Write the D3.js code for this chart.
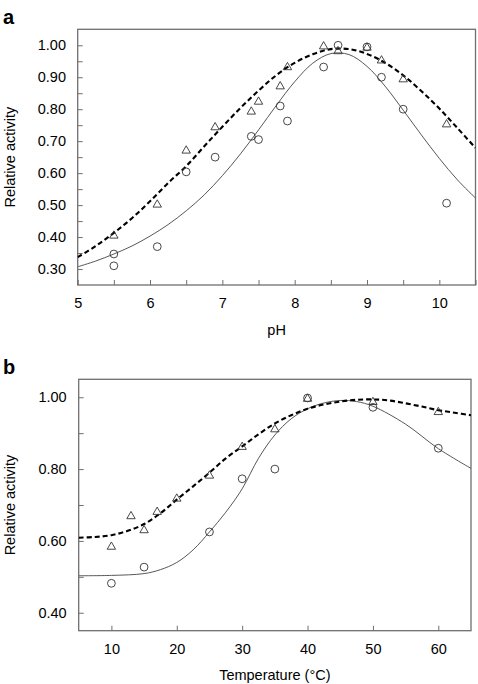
<!DOCTYPE html>
<html>
<head>
<meta charset="utf-8">
<script src="https://cdn.jsdelivr.net/npm/d3@7"></script>
<style>
  html, body { margin: 0; padding: 0; background: #fff; }
  svg { display: block; font-family: "Liberation Sans", Arial, sans-serif; }
</style>
</head>
<body>
<svg id="chart" width="478" height="684"></svg>
<script>
// ---------- Panel a: pH ----------
const phCircleX = [5.5, 5.5, 6.1, 6.5, 6.9, 7.4, 7.5, 7.8, 7.9, 8.4, 8.6, 9.0, 9.2, 9.5, 10.1];
const phCircleY = [0.347, 0.31, 0.37, 0.604, 0.65, 0.715, 0.705, 0.81, 0.763, 0.932, 1.0, 0.995, 0.90, 0.80, 0.506];
const phTriX = [5.5, 6.1, 6.5, 6.9, 7.4, 7.5, 7.8, 7.9, 8.4, 8.6, 9.0, 9.2, 9.5, 10.1];
const phTriY = [0.407, 0.504, 0.673, 0.746, 0.795, 0.826, 0.874, 0.934, 0.999, 0.984, 0.995, 0.955, 0.896, 0.755];
const phCurveX = [5, 5.25, 5.5, 5.75, 6, 6.25, 6.5, 6.75, 7, 7.25, 7.5, 7.75, 8, 8.25, 8.5, 8.75, 9, 9.25, 9.5, 9.75, 10, 10.25, 10.5];
const phSolidY = [0.307, 0.325, 0.347, 0.372, 0.403, 0.439, 0.482, 0.532, 0.592, 0.660, 0.735, 0.813, 0.886, 0.944, 0.974, 0.971, 0.934, 0.872, 0.797, 0.720, 0.646, 0.579, 0.522];
const phDashY = [0.337, 0.372, 0.413, 0.459, 0.512, 0.569, 0.622, 0.684, 0.745, 0.804, 0.858, 0.907, 0.945, 0.972, 0.988, 0.988, 0.973, 0.945, 0.906, 0.857, 0.802, 0.741, 0.679];
const phTicks = [5, 5.5, 6, 6.5, 7, 7.5, 8, 8.5, 9, 9.5, 10, 10.5];
const phTickLabels = ["5", "6", "7", "8", "9", "10"];
const actTicksA = [0.30, 0.35, 0.40, 0.45, 0.50, 0.55, 0.60, 0.65, 0.70, 0.75, 0.80, 0.85, 0.90, 0.95, 1.00];
const actLabelsA = ["0.30", "0.40", "0.50", "0.60", "0.70", "0.80", "0.90", "1.00"];

// ---------- Panel b: Temperature ----------
const tCircleX = [10, 15, 25, 30, 35, 40, 50, 60];
const tCircleY = [0.482, 0.527, 0.625, 0.773, 0.80, 0.998, 0.972, 0.858];
const tTriX = [10, 13, 15, 17, 20, 25, 30, 35, 40, 50, 60];
const tTriY = [0.586, 0.671, 0.632, 0.683, 0.72, 0.784, 0.864, 0.913, 0.998, 0.989, 0.961];
const tSolidX = [5, 10, 15, 17.5, 20, 22.5, 25, 27.5, 30, 32.5, 35, 37.5, 40, 42.5, 45, 47.5, 50, 55, 60, 65];
const tSolidY = [0.503, 0.504, 0.509, 0.52, 0.540, 0.575, 0.625, 0.68, 0.745, 0.83, 0.895, 0.94, 0.968, 0.984, 0.991, 0.988, 0.975, 0.925, 0.857, 0.802];
const tDashX = [5, 7.5, 10, 12.5, 15, 17.5, 20, 22.5, 25, 27.5, 30, 32.5, 35, 37.5, 40, 42.5, 45, 47.5, 50, 52.5, 55, 57.5, 60, 62.5, 65];
const tDashY = [0.609, 0.611, 0.616, 0.628, 0.647, 0.677, 0.715, 0.752, 0.79, 0.83, 0.863, 0.897, 0.927, 0.95, 0.968, 0.98, 0.988, 0.993, 0.994, 0.991, 0.983, 0.974, 0.964, 0.957, 0.95];
const tTicks = [10, 20, 30, 40, 50, 60];
const tTickLabels = ["10", "20", "30", "40", "50", "60"];
const actTicksB = [0.40, 0.50, 0.60, 0.70, 0.80, 0.90, 1.00];
const actLabelsB = ["0.40", "0.60", "0.80", "1.00"];

const svg = d3.select("#chart");
const FONT = 14.5;
const frameColor = "#6f6f6f";

function zip(xs, ys) { return xs.map((x, i) => [x, ys[i]]); }

function panel(cfg) {
  const g = svg.append("g");
  const x = d3.scaleLinear().domain(cfg.xDomain).range([cfg.left, cfg.right]);
  const y = d3.scaleLinear().domain(cfg.yDomain).range([cfg.bottom, cfg.top]);

  const clipId = "clip" + cfg.name;
  svg.append("clipPath").attr("id", clipId).append("rect")
    .attr("x", cfg.left).attr("y", cfg.top)
    .attr("width", cfg.right - cfg.left).attr("height", cfg.bottom - cfg.top);

  const fmtY = d => { const s = d3.format(".2f")(d); return cfg.yLabels.includes(s) ? s : ""; };
  const fmtX = d => { const s = d3.format("")(d); return cfg.xLabels.includes(s) ? s : ""; };

  const ax = g.append("g").attr("transform", `translate(0,${cfg.bottom})`)
    .call(d3.axisBottom(x).tickValues(cfg.xTicks).tickSize(-5).tickPadding(12.7).tickFormat(fmtX));
  const ay = g.append("g").attr("transform", `translate(${cfg.left},0)`)
    .call(d3.axisLeft(y).tickValues(cfg.yTicks).tickSize(-5).tickPadding(cfg.yPad).tickFormat(fmtY));
  [ax, ay].forEach(a => {
    a.select(".domain").remove();
    a.selectAll(".tick line").attr("stroke", frameColor).attr("stroke-width", 1);
    a.selectAll(".tick text").attr("fill", "#000").attr("font-size", FONT)
      .attr("font-family", '"Liberation Sans", Arial, sans-serif');
  });

  g.append("rect").attr("x", cfg.left).attr("y", cfg.top)
    .attr("width", cfg.right - cfg.left).attr("height", cfg.bottom - cfg.top)
    .attr("fill", "none").attr("stroke", frameColor).attr("stroke-width", 1.3);

  const line = d3.line().x(d => x(d[0])).y(d => y(d[1])).curve(d3.curveCatmullRom.alpha(0.5));
  const curves = g.append("g").attr("clip-path", `url(#${clipId})`);
  curves.append("path").attr("d", line(zip(cfg.solidX, cfg.solidY)))
    .attr("fill", "none").attr("stroke", "#444").attr("stroke-width", 0.9);
  curves.append("path").attr("d", line(zip(cfg.dashX, cfg.dashY)))
    .attr("fill", "none").attr("stroke", "#000").attr("stroke-width", 2.1)
    .attr("stroke-dasharray", "5,3");

  g.append("g").selectAll("path").data(zip(cfg.triX, cfg.triY)).join("path")
    .attr("d", d => {
      const cx = x(d[0]), cy = y(d[1]);
      return `M${cx},${cy - 4}L${cx + 4.2},${cy + 3.3}L${cx - 4.2},${cy + 3.3}Z`;
    })
    .attr("fill", "none").attr("stroke", "#333").attr("stroke-width", 0.9);
  g.append("g").selectAll("circle").data(zip(cfg.circX, cfg.circY)).join("circle")
    .attr("cx", d => x(d[0])).attr("cy", d => y(d[1])).attr("r", 3.9)
    .attr("fill", "none").attr("stroke", "#333").attr("stroke-width", 0.9);

  g.append("text").attr("transform", `translate(15,${(cfg.top + cfg.bottom) / 2}) rotate(-90)`)
    .attr("text-anchor", "middle").attr("font-size", FONT).text("Relative activity");
  g.append("text").attr("x", (cfg.left + cfg.right) / 2).attr("y", cfg.xTitleY)
    .attr("text-anchor", "middle").attr("font-size", FONT).text(cfg.xTitle);
  g.append("text").attr("x", 3).attr("y", cfg.letterY)
    .attr("font-size", 20).attr("font-weight", "bold").text(cfg.name);
}

panel({
  name: "a", xDomain: [5, 10.5], yDomain: [0.25, 1.05],
  left: 77.7, right: 475.5, top: 29.3, bottom: 285,
  xTicks: phTicks, xLabels: phTickLabels, yTicks: actTicksA, yLabels: actLabelsA, yPad: 11.7,
  solidX: phCurveX, solidY: phSolidY, dashX: phCurveX, dashY: phDashY,
  circX: phCircleX, circY: phCircleY, triX: phTriX, triY: phTriY,
  xTitle: "pH", xTitleY: 335, letterY: 24
});

panel({
  name: "b", xDomain: [5, 65], yDomain: [0.35, 1.05],
  left: 78.7, right: 471, top: 379.3, bottom: 630.7,
  xTicks: tTicks, xLabels: tTickLabels, yTicks: actTicksB, yLabels: actLabelsB, yPad: 12,
  solidX: tSolidX, solidY: tSolidY, dashX: tDashX, dashY: tDashY,
  circX: tCircleX, circY: tCircleY, triX: tTriX, triY: tTriY,
  xTitle: "Temperature (°C)", xTitleY: 680, letterY: 374
});
</script>
</body>
</html>
